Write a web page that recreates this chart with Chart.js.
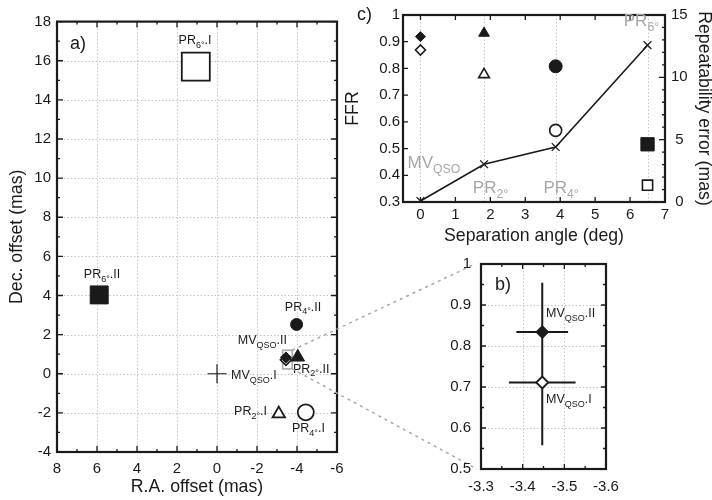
<!DOCTYPE html>
<html>
<head>
<meta charset="utf-8">
<script src="https://cdn.jsdelivr.net/npm/chart.js@4.4.0/dist/chart.umd.min.js"></script>
<style>
  html, body { margin: 0; padding: 0; background: #fff; }
  #wrap { position: relative; width: 712px; height: 500px; }
  #wrap canvas { position: absolute; left: 0; top: 0; }
</style>
</head>
<body>
<div id="wrap">
  <canvas id="chartA" width="712" height="500"></canvas>
  <canvas id="chartC" width="712" height="500"></canvas>
  <canvas id="chartB" width="712" height="500"></canvas>
</div>
<script>
// ---- panel a: position offsets (mas), order MV_QSO, PR2, PR4, PR6
const raTicks = [8, 6, 4, 2, 0, -2, -4, -6];
const decTicks = [-4, -2, 0, 2, 4, 6, 8, 10, 12, 14, 16, 18];
const raOpen = [-3.447, -3.09, -4.44, 1.06];
const decOpen = [0.711, -2.05, -1.97, 15.70];
const raFilled = [-3.447, -4.04, -3.98, 5.89];
const decFilled = [0.834, 0.85, 2.52, 4.03];
const origin = [0, 0];
const zoomBoxRa = [-3.28, -3.76];
const zoomBoxDec = [0.25, 1.2];

// ---- panel b: close-up of MV_QSO (II, I)
const bRaTicks = [-3.3, -3.4, -3.5, -3.6];
const bDecTicks = [0.5, 0.6, 0.7, 0.8, 0.9, 1];
const mvRa = [-3.447, -3.447];
const mvDec = [0.834, 0.711];
const mvRaErr = [0.062, 0.080];
const mvDecErr = [0.12, 0.153];

// ---- panel c: FFR and repeatability vs separation
const sepTicks = [0, 1, 2, 3, 4, 5, 6, 7];
const ffrTicks = [0.3, 0.4, 0.5, 0.6, 0.7, 0.8, 0.9, 1];
const repTicks = [0, 5, 10, 15];
const sepAngle = [0, 1.82, 3.87, 6.5];
const ffrFilled = [0.919, 0.932, 0.808, 0.516];
const ffrOpen = [0.869, 0.777, 0.568, 0.363];
const repError = [0.08, 3.03, 4.41, 12.58];

const shapes = ['rectRot', 'triangle', 'circle', 'rect'];
const fam = '"Liberation Sans", Arial, Helvetica, sans-serif';
const ink = '#1a1a1a';
const tickFont = { size: 15 };
const titleFont = { size: 17.7 };

Chart.defaults.font.family = fam;
Chart.defaults.color = ink;

function steps(a, b, s) {
  const out = [];
  for (let v = a; v <= b + 1e-9; v += s) out.push(+v.toFixed(4));
  return out;
}
function fmt(v) { return String(+v.toFixed(2)); }

function richText(ctx, x, y, parts, size, align) {
  const sub = size * 0.72;
  const runs = parts.map(p => p[0] === '_' ? { t: p.slice(1), s: true } : { t: p, s: false });
  let w = 0;
  runs.forEach(r => { ctx.font = (r.s ? sub : size) + 'px ' + fam; r.w = ctx.measureText(r.t).width; w += r.w; });
  let cx = align === 'center' ? x - w / 2 : align === 'right' ? x - w : x;
  ctx.textAlign = 'left';
  ctx.textBaseline = 'alphabetic';
  runs.forEach(r => {
    ctx.font = (r.s ? sub : size) + 'px ' + fam;
    ctx.fillText(r.t, cx, r.s ? y + size * 0.3 : y);
    cx += r.w;
  });
}

function deco(cfg) {
  return {
    id: 'deco',
    beforeDatasetsDraw(chart) {
      const ctx = chart.ctx, a = chart.chartArea;
      ctx.save();
      ctx.strokeStyle = '#c4c4c4';
      ctx.lineWidth = 1;
      ctx.setLineDash([1.5, 2]);
      ctx.beginPath();
      (cfg.gridX || []).forEach(v => {
        const p = Math.round(chart.scales.x.getPixelForValue(v)) + 0.5;
        ctx.moveTo(p, a.top); ctx.lineTo(p, a.bottom);
      });
      (cfg.gridY || []).forEach(v => {
        const p = Math.round(chart.scales.y.getPixelForValue(v)) + 0.5;
        ctx.moveTo(a.left, p); ctx.lineTo(a.right, p);
      });
      ctx.stroke();
      ctx.setLineDash([]);
      if (cfg.before) cfg.before(chart, ctx);
      ctx.restore();
    },
    afterDatasetsDraw(chart) {
      const ctx = chart.ctx, a = chart.chartArea;
      ctx.save();
      ctx.strokeStyle = ink;
      ctx.lineWidth = 1.3;
      ctx.beginPath();
      cfg.ticks.forEach(t => {
        const s = chart.scales[t.id];
        t.vals.forEach(v => {
          const p = s.getPixelForValue(v);
          t.sides.forEach(side => {
            if (side === 'bottom') { ctx.moveTo(p, a.bottom); ctx.lineTo(p, a.bottom - t.len); }
            if (side === 'top') { ctx.moveTo(p, a.top); ctx.lineTo(p, a.top + t.len); }
            if (side === 'left') { ctx.moveTo(a.left, p); ctx.lineTo(a.left + t.len, p); }
            if (side === 'right') { ctx.moveTo(a.right, p); ctx.lineTo(a.right - t.len, p); }
          });
        });
      });
      ctx.stroke();
      ctx.lineWidth = 2.2;
      ctx.strokeRect(a.left, a.top, a.right - a.left, a.bottom - a.top);
      (cfg.labels || []).forEach(l => {
        ctx.fillStyle = l.color || ink;
        richText(ctx, chart.scales.x.getPixelForValue(l.x), chart.scales.y.getPixelForValue(l.y), l.parts, l.size, l.align);
      });
      if (cfg.tag) {
        ctx.fillStyle = ink;
        ctx.font = '18px ' + fam;
        ctx.textAlign = 'left';
        ctx.textBaseline = 'middle';
        ctx.fillText(cfg.tag.text, a.left + cfg.tag.dx, a.top + cfg.tag.dy);
      }
      if (cfg.after) cfg.after(chart, ctx);
      ctx.restore();
    }
  };
}

function axis(ticks, extra) {
  return Object.assign({
    type: 'linear',
    grid: { display: false, drawTicks: false },
    border: { display: false },
    afterBuildTicks: s => { s.ticks = ticks.map(v => ({ value: v })); },
    ticks: { font: tickFont, color: ink, callback: v => fmt(v) }
  }, extra);
}

const common = {
  responsive: false,
  animation: false,
  events: [],
  plugins: { legend: { display: false }, tooltip: { enabled: false } }
};

// ---------- panel b ----------
const chartB = new Chart(document.getElementById('chartB'), {
  type: 'scatter',
  data: {
    datasets: [
      { data: [{ x: mvRa[0], y: mvDec[0] }], pointStyle: 'rectRot', pointRadius: 6.5, backgroundColor: ink, borderColor: ink, pointBorderWidth: 1 },
      { data: [{ x: mvRa[1], y: mvDec[1] }], pointStyle: 'rectRot', pointRadius: 6, backgroundColor: '#fff', borderColor: ink, pointBorderWidth: 1.8 }
    ]
  },
  options: Object.assign({}, common, {
    layout: { padding: { left: 430, top: 264, right: 106, bottom: 0 } },
    scales: {
      x: axis(bRaTicks, { min: -3.6, max: -3.3, reverse: true, afterFit: s => { s.height = 31; },
        ticks: { font: tickFont, color: ink, padding: 9, callback: v => v.toFixed(1) } }),
      y: axis(bDecTicks, { min: 0.5, max: 1, afterFit: s => { s.width = 51; },
        ticks: { font: tickFont, color: ink, padding: 10, callback: v => fmt(v) } })
    }
  }),
  plugins: [deco({
    gridX: [-3.4, -3.5],
    gridY: [0.6, 0.7, 0.8, 0.9],
    ticks: [
      { id: 'x', vals: bRaTicks, len: 5, sides: ['bottom', 'top'] },
      { id: 'x', vals: [-3.35, -3.45, -3.55], len: 3, sides: ['bottom', 'top'] },
      { id: 'y', vals: bDecTicks, len: 5, sides: ['left', 'right'] },
      { id: 'y', vals: [0.55, 0.65, 0.75, 0.85, 0.95], len: 3, sides: ['left', 'right'] }
    ],
    labels: [
      { x: -3.456, y: 0.871, parts: ['MV', '_QSO', '.II'], size: 12.5, align: 'left' },
      { x: -3.456, y: 0.661, parts: ['MV', '_QSO', '.I'], size: 12.5, align: 'left' }
    ],
    tag: { text: 'b)', dx: 14, dy: 21 },
    before(chart, ctx) {
      const sx = chart.scales.x, sy = chart.scales.y;
      ctx.strokeStyle = ink;
      ctx.lineWidth = 2;
      ctx.beginPath();
      mvRa.forEach((ra, i) => {
        const px = sx.getPixelForValue(ra), py = sy.getPixelForValue(mvDec[i]);
        ctx.moveTo(px, sy.getPixelForValue(mvDec[i] - mvDecErr[i]));
        ctx.lineTo(px, sy.getPixelForValue(mvDec[i] + mvDecErr[i]));
        ctx.moveTo(sx.getPixelForValue(ra - mvRaErr[i]), py);
        ctx.lineTo(sx.getPixelForValue(ra + mvRaErr[i]), py);
      });
      ctx.stroke();
    }
  })]
});

// ---------- panel a ----------
new Chart(document.getElementById('chartA'), {
  type: 'scatter',
  data: {
    datasets: [
      { data: raFilled.map((x, i) => ({ x, y: decFilled[i] })), pointStyle: shapes,
        pointRadius: [5.5, 7.8, 6, 12.7], backgroundColor: ink, borderColor: ink, pointBorderWidth: 1 },
      { data: raOpen.map((x, i) => ({ x, y: decOpen[i] })), pointStyle: shapes,
        pointRadius: [5.5, 7.2, 8, 19.8], backgroundColor: '#fff', borderColor: ink, pointBorderWidth: 1.8 },
      { data: [{ x: origin[0], y: origin[1] }], pointStyle: 'cross', pointRadius: 9.5, borderColor: ink, pointBorderWidth: 1.2 }
    ]
  },
  options: Object.assign({}, common, {
    layout: { padding: { left: 0, top: 14, right: 375, bottom: 0 } },
    scales: {
      x: axis(raTicks, { min: -6, max: 8, reverse: true, afterFit: s => { s.height = 48; },
        ticks: { font: tickFont, color: ink, padding: 8, callback: v => fmt(v) },
        title: { display: true, text: 'R.A. offset (mas)', font: titleFont, color: ink, padding: { top: 0, bottom: 2 } } }),
      y: axis(decTicks, { min: -4, max: 18, afterFit: s => { s.width = 57; },
        ticks: { font: tickFont, color: ink, padding: 6, callback: v => fmt(v) },
        title: { display: true, text: 'Dec. offset (mas)', font: titleFont, color: ink, padding: { top: 6, bottom: 0 } } })
    }
  }),
  plugins: [deco({
    gridX: [6, 4, 2, 0, -2, -4],
    gridY: [-2, 0, 2, 4, 6, 8, 10, 12, 14, 16],
    ticks: [
      { id: 'x', vals: raTicks, len: 6, sides: ['bottom', 'top'] },
      { id: 'x', vals: steps(-5, 7, 2), len: 3, sides: ['bottom', 'top'] },
      { id: 'y', vals: decTicks, len: 6, sides: ['left', 'right'] },
      { id: 'y', vals: steps(-3, 17, 2), len: 3, sides: ['left', 'right'] }
    ],
    labels: [
      { x: 1.1, y: 16.84, parts: ['PR', '_6°', '.I'], size: 12.5, align: 'center' },
      { x: 5.75, y: 4.88, parts: ['PR', '_6°', '.II'], size: 12.5, align: 'center' },
      { x: -4.3, y: 3.23, parts: ['PR', '_4°', '.II'], size: 12.5, align: 'center' },
      { x: -3.5, y: 1.52, parts: ['MV', '_QSO', '.II'], size: 12.5, align: 'right' },
      { x: -3.8, y: 0.06, parts: ['PR', '_2°', '.II'], size: 12.5, align: 'left' },
      { x: -0.7, y: -0.29, parts: ['MV', '_QSO', '.I'], size: 12.5, align: 'left' },
      { x: -2.5, y: -2.1, parts: ['PR', '_2°', '.I'], size: 12.5, align: 'right' },
      { x: -3.75, y: -3.0, parts: ['PR', '_4°', '.I'], size: 12.5, align: 'left' }
    ],
    tag: { text: 'a)', dx: 13, dy: 22 },
    before(chart, ctx) {
      const sx = chart.scales.x, sy = chart.scales.y;
      const x0 = sx.getPixelForValue(zoomBoxRa[0]), x1 = sx.getPixelForValue(zoomBoxRa[1]);
      const y0 = sy.getPixelForValue(zoomBoxDec[1]), y1 = sy.getPixelForValue(zoomBoxDec[0]);
      ctx.strokeStyle = '#a8a8a8';
      ctx.lineWidth = 1.6;
      ctx.strokeRect(x0, y0, x1 - x0, y1 - y0);
    },
    after(chart, ctx) {
      const sx = chart.scales.x, sy = chart.scales.y, b = chartB.chartArea;
      const xr = sx.getPixelForValue(zoomBoxRa[1]);
      ctx.strokeStyle = '#a8a8a8';
      ctx.lineWidth = 1.5;
      ctx.setLineDash([3, 4]);
      ctx.beginPath();
      ctx.moveTo(xr, sy.getPixelForValue(zoomBoxDec[1])); ctx.lineTo(b.left - 6, b.top);
      ctx.moveTo(xr, sy.getPixelForValue(zoomBoxDec[0])); ctx.lineTo(b.left - 4, b.bottom);
      ctx.stroke();
    }
  })]
});

// ---------- panel c ----------
new Chart(document.getElementById('chartC'), {
  type: 'scatter',
  data: {
    datasets: [
      { data: sepAngle.map((x, i) => ({ x, y: ffrFilled[i] })), pointStyle: shapes,
        pointRadius: [5, 6.2, 6.5, 9.4], backgroundColor: ink, borderColor: ink, pointBorderWidth: 1 },
      { data: sepAngle.map((x, i) => ({ x, y: ffrOpen[i] })), pointStyle: shapes,
        pointRadius: [5, 6.2, 6, 7.2], backgroundColor: '#fff', borderColor: ink, pointBorderWidth: 1.6 },
      { data: sepAngle.map((x, i) => ({ x, y: repError[i] })), yAxisID: 'y2', showLine: true,
        borderColor: ink, borderWidth: 1.6, pointStyle: 'crossRot', pointRadius: 5.5,
        pointBorderWidth: 1.3, pointBorderColor: ink }
    ]
  },
  options: Object.assign({}, common, {
    layout: { padding: { left: 340, top: 14, right: -3, bottom: 252 } },
    scales: {
      x: axis(sepTicks, { min: -0.5, max: 7, afterFit: s => { s.height = 46; },
        ticks: { font: tickFont, color: ink, padding: 4, callback: v => fmt(v) },
        title: { display: true, text: 'Separation angle (deg)', font: titleFont, color: ink, padding: { top: 0, bottom: 1 } } }),
      y: axis(ffrTicks, { min: 0.3, max: 1, position: 'left', afterFit: s => { s.width = 63; },
        ticks: { font: tickFont, color: ink, padding: 3, callback: v => fmt(v) },
        title: { display: true, text: 'FFR', font: titleFont, color: ink, padding: { top: 2, bottom: 0 } } }),
      y2: axis(repTicks, { min: 0, max: 15, position: 'right', afterFit: s => { s.width = 50; },
        ticks: { font: tickFont, color: ink, padding: 6, crossAlign: 'center', callback: v => fmt(v) },
        title: { display: true, text: 'Repeatability error (mas)', font: titleFont, color: ink, padding: { top: 0, bottom: 0 } } })
    }
  }),
  plugins: [deco({
    gridX: sepAngle,
    ticks: [
      { id: 'x', vals: sepTicks, len: 5, sides: ['bottom', 'top'] },
      { id: 'y', vals: ffrTicks, len: 5, sides: ['left'] },
      { id: 'y2', vals: repTicks, len: 6, sides: ['right'] },
      { id: 'y2', vals: steps(1, 14, 1), len: 3, sides: ['right'] }
    ],
    labels: [
      { x: -0.37, y: 0.427, parts: ['MV', '_QSO'], size: 17, align: 'left', color: '#a6a6a6' },
      { x: 1.5, y: 0.333, parts: ['PR', '_2°'], size: 17, align: 'left', color: '#a6a6a6' },
      { x: 3.52, y: 0.333, parts: ['PR', '_4°'], size: 17, align: 'left', color: '#a6a6a6' },
      { x: 5.82, y: 0.959, parts: ['PR', '_6°'], size: 17, align: 'left', color: '#a6a6a6' }
    ],
    tag: { text: 'c)', dx: -46, dy: 0 }
  })]
});
</script>
</body>
</html>
